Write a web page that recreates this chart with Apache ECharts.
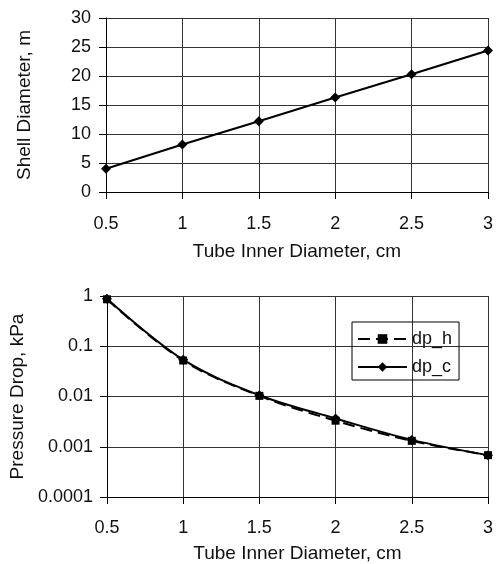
<!DOCTYPE html>
<html>
<head>
<meta charset="utf-8">
<script src="https://cdn.jsdelivr.net/npm/echarts@6/dist/echarts.min.js"></script>
<style>
html,body{margin:0;padding:0;background:#fff;}
#chart{width:496px;height:564px;}
</style>
</head>
<body>
<div id="chart"></div>
<script>
// Data
var tubeDiameter = [0.5, 1, 1.5, 2, 2.5, 3];
var shellDiameter = [4.0, 8.2, 12.2, 16.3, 20.3, 24.4];
var dpH = [0.86, 0.052, 0.0103, 0.0033, 0.00131, 0.00068];
var dpC = [0.88, 0.054, 0.0106, 0.00365, 0.00137, 0.00068];
var logTickLabels = ['0.0001', '0.001', '0.01', '0.1', '1'];

function pairs(xs, ys) { return xs.map(function (x, i) { return [x, ys[i]]; }); }

var FONT = 'Liberation Sans, Arial, sans-serif';
var FS = 18;
var FST = 19;
var TXT = '#111';
var lineCol = '#000';
var gridCol = '#333';

var chart = echarts.init(document.getElementById('chart'), null, {renderer: 'canvas'});

function xAxisCfg(gridIndex, margin, nameGap) {
  return {
    type: 'value', gridIndex: gridIndex, min: 0.5, max: 3, interval: 0.5,
    name: 'Tube Inner Diameter, cm', nameLocation: 'middle', nameGap: nameGap,
    nameTextStyle: {fontFamily: FONT, fontSize: FST, color: TXT},
    axisLine: {show: true, lineStyle: {color: lineCol, width: 1}},
    axisTick: {show: true, inside: false, length: 7, lineStyle: {color: lineCol}},
    axisLabel: {fontFamily: FONT, fontSize: FS, color: TXT, margin: margin},
    splitLine: {show: true, lineStyle: {color: gridCol, width: 1}}
  };
}

var option = {
  animation: false,
  backgroundColor: '#fff',
  grid: [
    {left: 106, right: 5, top: 18, bottom: 372, containLabel: false},
    {left: 104, right: 8, top: 296, bottom: 66, containLabel: false}
  ],
  legend: {
    orient: 'vertical', left: 352, top: 322,
    padding: [8, 7, 4, 5],
    itemWidth: 49, itemHeight: 12, itemGap: 10,
    borderColor: '#000', borderWidth: 1,
    textStyle: {fontFamily: FONT, fontSize: FS, color: TXT},
    data: ['dp_h', 'dp_c']
  },
  xAxis: [xAxisCfg(0, 23, 50), xAxisCfg(1, 22, 47)],
  yAxis: [
    {
      type: 'value', gridIndex: 0, min: 0, max: 30, interval: 5,
      name: 'Shell Diameter, m', nameLocation: 'middle', nameGap: 72, nameRotate: 90,
      nameTextStyle: {fontFamily: FONT, fontSize: FST, color: TXT},
      axisLine: {show: true, lineStyle: {color: lineCol, width: 1}},
      axisTick: {show: true, inside: false, length: 7, lineStyle: {color: lineCol}},
      axisLabel: {fontFamily: FONT, fontSize: FS, color: TXT, margin: 15},
      splitLine: {show: true, lineStyle: {color: gridCol, width: 1}}
    },
    {
      type: 'log', gridIndex: 1, min: 0.0001, max: 1, logBase: 10,
      name: 'Pressure Drop, kPa', nameLocation: 'middle', nameGap: 79, nameRotate: 90,
      nameTextStyle: {fontFamily: FONT, fontSize: FST, color: TXT},
      axisLine: {show: true, lineStyle: {color: lineCol, width: 1}},
      axisTick: {show: true, inside: false, length: 7, lineStyle: {color: lineCol}},
      axisLabel: {
        fontFamily: FONT, fontSize: FS, color: TXT, margin: 14,
        formatter: function (v) {
          var e = Math.round(Math.log(v) / Math.LN10);
          return logTickLabels[e + 4];
        }
      },
      splitLine: {show: true, lineStyle: {color: gridCol, width: 1}},
      minorSplitLine: {show: false}
    }
  ],
  series: [
    {
      name: 'shell', type: 'line', xAxisIndex: 0, yAxisIndex: 0,
      data: pairs(tubeDiameter, shellDiameter),
      symbol: 'diamond', symbolSize: 10,
      lineStyle: {color: '#000', width: 2},
      itemStyle: {color: '#000'}
    },
    {
      name: 'dp_h', type: 'line', xAxisIndex: 1, yAxisIndex: 1,
      data: pairs(tubeDiameter, dpH), smooth: 0.35,
      symbol: 'rect', symbolSize: 8,
      lineStyle: {color: '#000', width: 2, type: [12, 6]},
      itemStyle: {color: '#000'}
    },
    {
      name: 'dp_c', type: 'line', xAxisIndex: 1, yAxisIndex: 1,
      data: pairs(tubeDiameter, dpC), smooth: 0.35,
      symbol: 'diamond', symbolSize: 10,
      lineStyle: {color: '#000', width: 2},
      itemStyle: {color: '#000'}
    }
  ]
};
chart.setOption(option);
</script>
</body>
</html>
